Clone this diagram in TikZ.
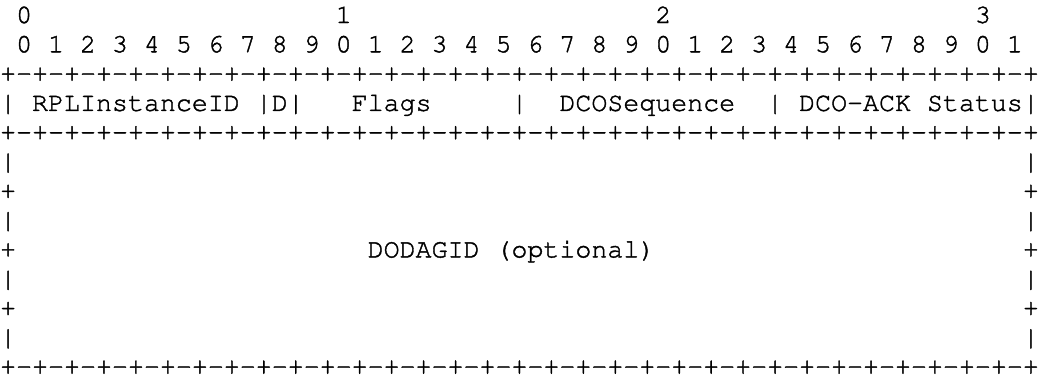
\documentclass[tikz,border=0pt]{standalone}
\usepackage[T1]{fontenc}
\newcommand\asciifont{\special{pdf:literal direct 2 Tr 0.3 w}\fontencoding{T1}\fontfamily{pcr}\fontseries{m}\fontshape{n}\fontsize{19.975pt}{22pt}\selectfont}
\newcommand\bordleft{+-+-+-+-+-+-+-+-+-+-+-+-+-+-+-+-+-+-+-+-+-+-+-+-+-+-+-+-+-+-+-+-}
\begin{document}
\begin{tikzpicture}[x=1pt,y=1pt,
  txt/.style={anchor=base west, inner sep=0pt, outer sep=0pt, font=\asciifont},
  endc/.style={anchor=base, inner sep=0pt, outer sep=0pt, font=\asciifont}]
\useasboundingbox (0,0) rectangle (779.25,-282);
% column c -> x = 0.1 + 11.985 c ; row r -> y = -(17.25 + 21.975 r)
\def\X#1{\fpeval{0.1+11.985*#1}}
\def\C#1{\fpeval{0.1+11.985*(#1+0.5)}}
\def\Y#1{\fpeval{-(17.25+21.975*#1)}}
% row 0
\node[txt] (d0) at (\X{1},\Y{0}) {0};
\node[txt] (d1) at (\X{21},\Y{0}) {1};
\node[txt] (d2) at (\X{41},\Y{0}) {2};
\node[txt] (d3) at (\X{61},\Y{0}) {3};
% row 1
\node[txt] (bits) at (\X{1},\Y{1}) {0 1 2 3 4 5 6 7 8 9 0 1 2 3 4 5 6 7 8 9 0 1 2 3 4 5 6 7 8 9 0 1};
% row 2
\node[txt] (top) at (\X{0},\Y{2}) {\bordleft};
\node[endc] (topend) at (\C{64},\Y{2}) {\makebox[0pt]{+}};
% row 3
\node[txt] (p0) at (\X{0},\Y{3}) {|};
\node[txt] (rpl) at (\X{2},\Y{3}) {RPLInstanceID};
\node[txt] (dflag) at (\X{16},\Y{3}) {|D|};
\node[txt] (flags) at (\X{22},\Y{3}) {Flags};
\node[txt] (p1) at (\X{32},\Y{3}) {|};
\node[txt] (seq) at (\X{35},\Y{3}) {DCOSequence};
\node[txt] (p2) at (\X{48},\Y{3}) {|};
\node[txt] (status) at (\X{50},\Y{3}) {DCO-ACK Status};
\node[endc] (p3) at (\C{64},\Y{3}) {\makebox[0pt]{|}};
% row 4
\node[txt] (mid) at (\X{0},\Y{4}) {\bordleft};
\node[endc] (midend) at (\C{64},\Y{4}) {\makebox[0pt]{+}};
% rows 5-11
\foreach \r/\c in {5/|,6/+,7/|,8/+,9/|,10/+,11/|}{
  \node[txt] (l\r) at (\X{0},\Y{\r}) {\c};
  \node[endc] (r\r) at (\C{64},\Y{\r}) {\makebox[0pt]{\c}};
}
\node[txt] (dodag) at (\X{23},\Y{8}) {DODAGID (optional)};
% row 12 (no descenders: zero depth)
\node[txt] (bot) at (\X{0},\Y{12}) {\raisebox{0pt}[\height][0pt]{\bordleft}};
\node[endc] (botend) at (\C{64},\Y{12}) {\raisebox{0pt}[\height][0pt]{\makebox[0pt]{+}}};
\end{tikzpicture}
\end{document}
